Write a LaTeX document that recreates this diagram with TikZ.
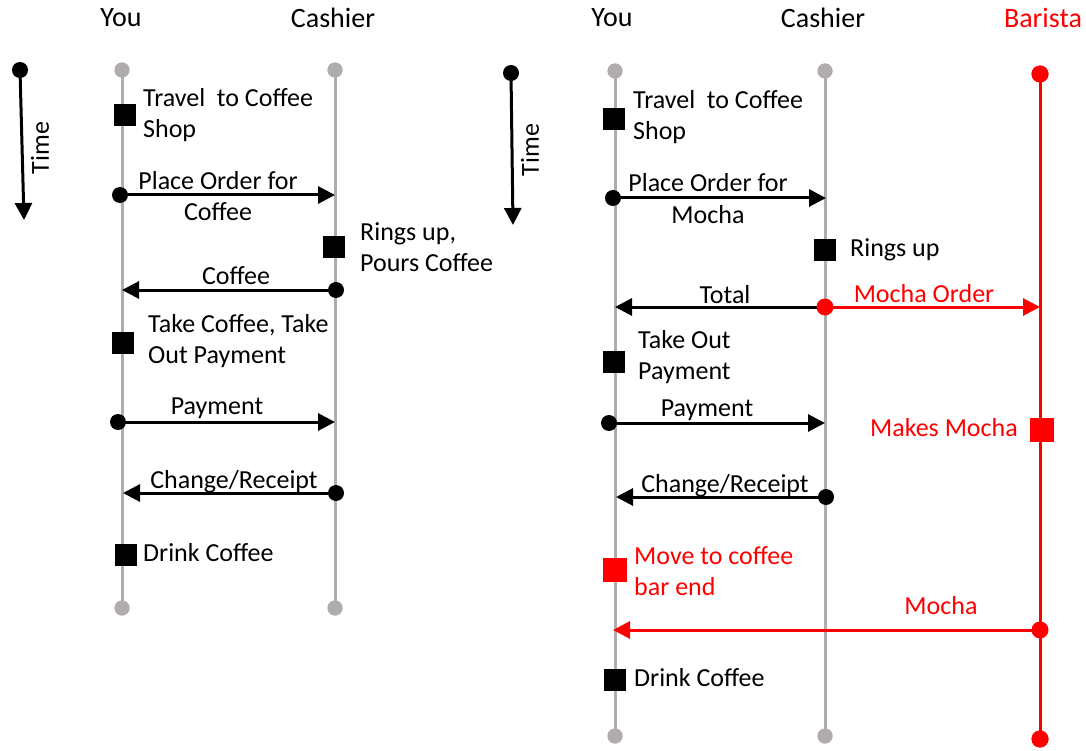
\documentclass[tikz,border=0pt]{standalone}
\usepackage{fontspec}
\setmainfont{Carlito}
\usetikzlibrary{arrows.meta}
\definecolor{lgray}{RGB}{176,172,172}
\definecolor{bred}{RGB}{255,0,0}
\tikzset{
  life/.style={draw=lgray, line width=3pt},
  redlife/.style={draw=bred, line width=3pt},
  gdot/.style={circle, fill=lgray, inner sep=0pt, minimum size=15pt},
  bdot/.style={circle, fill=black, inner sep=0pt, minimum size=16pt},
  rdot/.style={circle, fill=bred, inner sep=0pt, minimum size=17pt},
  act/.style={rectangle, fill=black, inner sep=0pt, minimum size=22pt},
  ract/.style={rectangle, fill=bred, inner sep=0pt, minimum size=24pt},
  msg/.style={line width=3pt, -{Triangle[length=17pt,width=17pt]}},
  rmsg/.style={msg, draw=bred, -{Triangle[length=17pt,width=17pt,fill=bred]}},
  lbl/.style={font=\fontsize{26}{31}\selectfont, align=left, inner sep=0pt},
  head/.style={font=\fontsize{28}{30}\selectfont, inner sep=0pt}
}
\begin{document}
\begin{tikzpicture}[x=1pt, y=-1pt]
\useasboundingbox (0,0) rectangle (1086,751);

% ---------------- simple coffee shop ----------------
% time axis
\node[bdot] (t1) at (20,70) {};
\coordinate (t1e) at (24,220);
\draw[msg] (t1.center) -- (t1e);
\node[lbl, rotate=90] (t1l) at (40,148) {Time};

% participants
\node[head] (you1) at (121,18) {You};
\node[head] (cas1) at (333,18) {Cashier};

\node[gdot] (y1a) at (122,70) {};
\node[gdot] (y1b) at (122,608) {};
\node[gdot] (c1a) at (335,70) {};
\node[gdot] (c1b) at (335,608) {};
\draw[life] (y1a.center) -- (y1b.center);
\draw[life] (c1a.center) -- (c1b.center);
\node[gdot] at (122,70) {};
\node[gdot] at (122,608) {};
\node[gdot] at (335,70) {};
\node[gdot] at (335,608) {};

% travel
\node[act] (s1) at (125,115) {};
\node[lbl, anchor=west] (s1l) at (143,115) {Travel\ \ to Coffee\\Shop};

% place order
\node[bdot] (m1) at (120,195) {};
\coordinate (m1e) at (335,195);
\draw[msg] (m1.center) -- (m1e);
\node[lbl] (m1a) at (218,181) {Place Order for};
\node[lbl] (m1b) at (218,212) {Coffee};

% rings up
\node[act] (s2) at (334,247) {};
\node[lbl, anchor=west] (s2l) at (360,247) {Rings up,\\Pours Coffee};

% coffee
\node[bdot] (m2) at (336,290) {};
\coordinate (m2e) at (122,290);
\draw[msg] (m2.center) -- (m2e);
\node[lbl] (m2l) at (236,276) {Coffee};

% take coffee
\node[act] (s3) at (123,343) {};
\node[lbl, anchor=west] (s3l) at (148,341) {Take Coffee, Take\\Out Payment};

% payment
\node[bdot] (m3) at (118,422) {};
\coordinate (m3e) at (335,422);
\draw[msg] (m3.center) -- (m3e);
\node[lbl] (m3l) at (217,408) {Payment};

% change
\node[bdot] (m4) at (336,493) {};
\coordinate (m4e) at (123,493);
\draw[msg] (m4.center) -- (m4e);
\node[lbl] (m4l) at (234,482) {Change/Receipt};

% drink
\node[act] (s4) at (126,555) {};
\node[lbl, anchor=west] (s4l) at (143,553) {Drink Coffee};

% ---------------- coffee shop with barista ----------------
% time axis
\node[bdot] (t2) at (511,73) {};
\coordinate (t2e) at (513,225);
\draw[msg] (t2.center) -- (t2e);
\node[lbl, rotate=90] (t2l) at (530,150) {Time};

% participants
\node[head] (you2) at (612,18) {You};
\node[head] (cas2) at (823,18) {Cashier};
\node[head, text=bred] (bar2) at (1043,18) {Barista};

\node[gdot] (y2a) at (615,71) {};
\node[gdot] (y2b) at (615,736) {};
\node[gdot] (c2a) at (825,71) {};
\node[gdot] (c2b) at (825,736) {};
\node[rdot] (b2a) at (1040,74) {};
\node[rdot] (b2b) at (1040,739) {};
\draw[life] (y2a.center) -- (y2b.center);
\draw[life] (c2a.center) -- (c2b.center);
\draw[redlife] (b2a.center) -- (b2b.center);
\node[gdot] at (615,71) {};
\node[gdot] at (615,736) {};
\node[gdot] at (825,71) {};
\node[gdot] at (825,736) {};
\node[rdot] at (1040,74) {};
\node[rdot] at (1040,739) {};

% travel
\node[act] (r1) at (614,119) {};
\node[lbl, anchor=west] (r1l) at (633,117) {Travel\ \ to Coffee\\Shop};

% place order
\node[bdot] (n1) at (613,198) {};
\coordinate (n1e) at (826,198);
\draw[msg] (n1.center) -- (n1e);
\node[lbl] (n1a) at (708,183) {Place Order for};
\node[lbl] (n1b) at (708,215) {Mocha};

% rings up
\node[act] (r2) at (825,250) {};
\node[lbl, anchor=west] (r2l) at (850,250) {Rings up};

% total and mocha order
\coordinate (n2e) at (615,307);
\coordinate (n3e) at (1040,307);
\draw[msg] (825,307) -- (n2e);
\draw[rmsg] (825,307) -- (n3e);
\node[rdot] (n2) at (825,307) {};
\node[lbl] (n2l) at (725,295) {Total};
\node[lbl, text=bred] (n3l) at (924,294) {Mocha Order};

% take out payment
\node[act] (r3) at (614,362) {};
\node[lbl, anchor=west] (r3l) at (638,357) {Take Out\\Payment};

% payment
\node[bdot] (n4) at (609,423) {};
\coordinate (n4e) at (825,423);
\draw[msg] (n4.center) -- (n4e);
\node[lbl] (n4l) at (707,410) {Payment};

% makes mocha
\node[ract] (r4) at (1042,430) {};
\node[lbl, anchor=east, text=bred] (r4l) at (1018,428) {Makes Mocha};

% change
\node[bdot] (n5) at (826,497) {};
\coordinate (n5e) at (616,497);
\draw[msg] (n5.center) -- (n5e);
\node[lbl] (n5l) at (725,486) {Change/Receipt};

% move to bar end
\node[ract] (r5) at (615,570) {};
\node[lbl, anchor=west, text=bred] (r5l) at (634,571) {Move to coffee\\bar end};

% mocha
\node[rdot] (n6) at (1040,630) {};
\coordinate (n6e) at (613,630);
\draw[rmsg] (n6.center) -- (n6e);
\node[lbl, text=bred] (n6l) at (941,606) {Mocha};

% drink
\node[act] (r6) at (615,680) {};
\node[lbl, anchor=west] (r6l) at (634,678) {Drink Coffee};
\end{tikzpicture}
\end{document}
